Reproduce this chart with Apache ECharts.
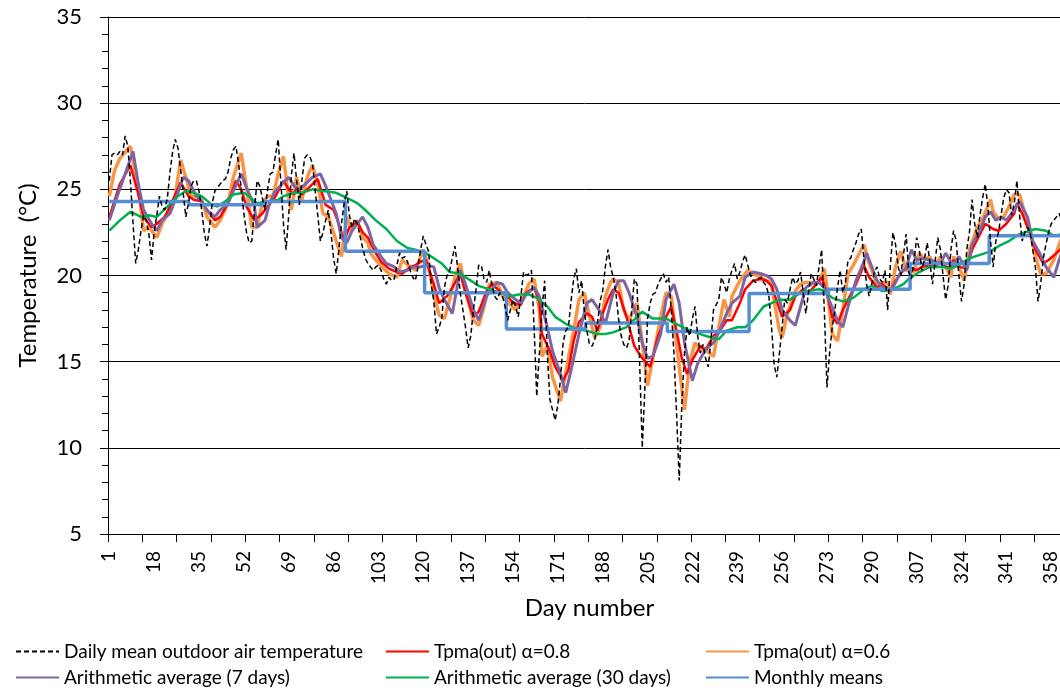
<!DOCTYPE html>
<html><head><meta charset="utf-8">
<script src="https://cdn.jsdelivr.net/npm/echarts@6/dist/echarts.min.js"></script>
<style>html,body{margin:0;padding:0;background:#fff}#c{width:1060px;height:690px}</style>
</head><body><div id="c"></div>
<script>
// ---- DATA ----
const dailyMean = [
 25.5,27.0,27.1,27.0,27.2,27.0,28.1,27.5,25.5,23.0, // 1-10
 20.7,21.5,22.6,23.5,23.2,22.4,20.9,22.5,23.5,24.6, // 11-20
 24.0,23.8,24.5,26.0,27.2,27.9,27.4,26.2,24.8,23.4, // 21-30
 24.2,25.2,25.5,25.5,24.9,23.8,22.5,21.7,22.8,24.2, // 31-40
 24.9,25.1,25.3,25.5,25.6,26.0,26.8,27.3,27.5,26.5, // 41-50
 25.0,23.6,22.5,21.9,22.0,23.8,25.5,25.2,24.5,23.8, // 51-60
 25.0,25.9,26.0,27.0,27.9,25.5,23.0,21.5,23.5,25.8, // 61-70
 27.1,25.5,24.1,25.5,26.8,27.0,26.9,26.5,25.0,23.5, // 71-80
 22.0,22.5,23.2,23.8,22.5,21.0,20.1,21.5,23.0,24.2, // 81-90
 24.9,23.5,22.8,23.3,23.0,22.3,21.6,21.0,20.7,20.5, // 91-100
 20.3,20.5,20.6,20.3,19.8,19.5,19.9,19.7,19.8,20.6, // 101-110
 21.3,21.0,21.1,20.8,20.3,19.9,19.7,20.5,21.5,22.3, // 111-120
 21.8,21.4,19.5,18.5,16.6,17.0,17.5,19.3,20.0,20.3, // 121-130
 21.0,21.7,20.5,19.0,18.0,17.0,15.8,16.5,18.0,19.2, // 131-140
 20.6,20.6,19.8,19.6,20.3,19.5,18.8,18.6,19.0,18.8, // 141-150
 18.2,17.4,18.0,18.6,18.2,17.6,18.8,20.2,20.0,20.1, // 151-160
 20.3,17.0,13.0,15.5,18.0,19.7,15.5,12.8,12.2,11.6, // 161-170
 12.5,14.0,16.1,16.8,17.0,18.5,19.8,20.4,19.0,19.7, // 171-180
 18.0,16.8,16.0,15.9,16.3,17.2,18.5,19.1,20.5,21.5, // 181-190
 20.5,19.9,19.0,17.5,16.5,16.0,15.8,16.2,18.0,19.8, // 191-200
 19.5,15.0,10.0,13.5,17.5,18.4,18.9,19.0,19.5,19.8, // 201-210
 20.1,19.6,19.9,18.0,15.5,12.0,8.1,12.5,15.5,17.0,  // 211-220
 16.5,17.5,18.2,16.5,15.5,16.0,15.2,14.7,16.2,18.0, // 221-230
 18.3,18.6,19.9,19.5,19.0,19.8,20.3,20.7,19.8,20.2, // 231-240
 20.8,21.2,20.6,20.0,19.7,19.6,19.8,19.9,19.6,19.4, // 241-250
 18.8,17.0,14.8,14.1,15.5,17.0,18.6,18.4,19.2,19.9, // 251-260
 19.5,19.7,20.2,19.0,17.8,19.0,20.1,19.8,19.4,20.5, // 261-270
 21.5,18.0,13.5,15.5,17.0,18.0,19.3,20.3,19.0,19.6, // 271-280
 20.9,21.0,21.5,21.9,22.4,22.7,21.0,19.5,18.8,19.5, // 281-290
 20.2,20.5,19.8,19.6,20.3,18.0,20.5,22.5,21.8,20.5, // 291-300
 20.0,21.2,22.4,20.2,19.8,20.8,22.2,21.5,20.3,21.0, // 301-310
 21.9,20.8,19.5,20.8,22.2,21.5,20.0,18.6,19.5,21.5, // 311-320
 22.6,22.0,20.0,18.5,19.5,21.5,22.5,24.4,23.0,22.2, // 321-330
 23.5,24.5,25.3,24.0,22.0,20.5,22.0,22.5,23.5,24.5, // 331-340
 25.0,24.8,23.5,24.2,25.5,23.5,22.0,22.5,22.8,22.5, // 341-350
 21.5,20.5,18.5,19.5,21.0,21.8,22.5,23.0,23.2,23.4, // 351-360
 23.6,23.2,23.0,22.8,22.6                           // 361-365
];
// [day, value] readings
const tpma08 = [[1,23.4],[5,25.3],[9,26.4],[12,24.7],[14,23.4],[17,22.8],[19,23.0],[22,23.4],[24,24.0],[28,25.4],[31,24.6],[33,24.4],[36,24.3],[38,23.8],[41,23.2],[43,23.4],[46,24.2],[49,25.5],[51,25.0],[53,24.0],[56,23.2],[59,23.6],[61,24.0],[64,24.6],[67,25.5],[69,25.0],[71,24.7],[72,25.1],[74,24.7],[76,25.0],[78,25.3],[80,25.6],[81,25.1],[83,24.1],[86,23.8],[88,23.0],[90,22.0],[92,22.8],[95,23.1],[97,22.5],[99,22.2],[102,21.3],[104,20.8],[107,20.4],[110,20.2],[112,20.1],[115,20.5],[117,20.6],[119,20.8],[121,20.9],[124,19.5],[126,18.4],[129,18.8],[131,19.3],[134,20.1],[136,19.0],[139,17.6],[141,17.9],[144,19.1],[146,19.5],[149,19.1],[152,18.8],[154,18.4],[157,18.3],[159,19.0],[162,19.3],[164,18.5],[165,16.6],[168,15.6],[170,14.7],[173,13.9],[175,14.5],[177,16.2],[179,17.3],[182,17.8],[184,17.6],[186,16.8],[188,17.8],[190,18.6],[192,19.2],[194,19.0],[197,17.6],[200,15.9],[203,15.2],[206,14.7],[209,16.5],[212,17.6],[214,18.2],[216,16.8],[218,15.2],[220,14.3],[222,15.1],[225,15.9],[227,15.7],[230,16.5],[232,16.7],[235,17.4],[237,17.4],[240,18.4],[242,19.2],[245,19.7],[248,19.8],[250,19.7],[252,19.4],[254,18.5],[256,17.6],[259,18.0],[261,18.8],[264,19.2],[266,19.0],[269,19.5],[271,19.9],[273,19.0],[275,17.6],[277,17.2],[279,18.0],[281,18.6],[284,19.5],[287,20.6],[289,19.9],[292,19.3],[294,19.5],[297,19.1],[299,19.7],[302,20.3],[304,20.5],[307,20.3],[309,20.5],[312,20.6],[314,20.5],[316,20.8],[318,20.5],[320,20.5],[321,20.9],[323,20.5],[326,20.4],[328,21.5],[331,22.4],[333,23.0],[336,22.7],[338,22.6],[341,23.0],[344,23.6],[345,24.2],[347,23.6],[350,22.4],[352,21.5],[355,20.7],[357,20.9],[360,21.3],[362,21.6],[365,22.0]];
const tpma06 = [[1,24.6],[3,26.1],[5,26.8],[9,27.5],[12,25.1],[14,22.6],[16,22.8],[19,22.2],[21,23.0],[23,23.6],[26,24.6],[28,26.7],[30,25.7],[32,24.6],[34,24.6],[36,24.4],[38,23.4],[41,22.8],[43,23.2],[46,24.2],[48,25.7],[51,27.1],[53,25.1],[55,22.8],[57,22.8],[59,24.2],[61,24.6],[63,24.6],[65,25.9],[67,26.9],[69,24.5],[70,23.8],[72,25.7],[74,24.4],[76,25.7],[78,26.4],[80,25.3],[82,23.6],[84,23.4],[87,22.0],[89,21.1],[91,23.4],[93,22.6],[95,23.2],[97,22.2],[99,21.9],[100,21.3],[102,20.9],[105,20.4],[107,20.1],[110,19.9],[112,20.9],[115,20.5],[117,20.3],[120,21.5],[122,20.5],[124,18.9],[126,17.7],[128,17.5],[130,18.6],[132,19.9],[134,20.7],[136,19.1],[139,17.4],[141,17.1],[143,18.2],[145,19.5],[148,19.6],[150,18.8],[153,18.3],[155,18.0],[158,18.8],[160,19.5],[162,19.8],[164,18.0],[165,15.3],[167,15.9],[169,14.1],[172,12.7],[174,14.4],[177,16.8],[179,18.6],[181,19.0],[183,17.6],[185,16.4],[187,17.0],[189,18.8],[191,19.6],[192,19.8],[194,19.6],[196,18.0],[198,17.4],[201,18.4],[203,16.1],[205,13.6],[207,15.2],[210,17.6],[212,19.0],[214,18.8],[216,16.0],[219,12.2],[221,15.0],[223,16.1],[225,15.7],[227,15.7],[230,15.3],[232,17.0],[234,18.6],[236,17.6],[237,18.8],[240,19.7],[243,20.3],[245,20.1],[248,19.9],[250,19.7],[252,19.6],[253,18.5],[255,16.8],[256,16.4],[258,17.8],[261,19.1],[263,19.5],[265,19.6],[268,19.6],[270,19.6],[272,20.4],[273,19.3],[275,16.6],[277,16.2],[279,18.0],[281,20.1],[283,20.6],[285,21.2],[287,21.8],[289,20.7],[292,19.5],[294,19.6],[296,19.6],[297,18.9],[299,20.5],[301,21.4],[303,20.3],[306,20.2],[308,21.3],[310,20.9],[312,21.1],[314,20.5],[316,21.1],[318,20.5],[320,19.9],[321,21.1],[323,20.5],[325,19.7],[327,21.5],[330,22.8],[332,23.3],[335,24.4],[336,23.7],[338,23.3],[340,23.4],[342,24.0],[344,24.7],[346,24.7],[348,23.6],[350,22.6],[352,21.1],[354,20.1],[356,20.1],[359,20.9],[361,21.8],[363,22.5],[365,22.8]];
const avg7 = [[1,23.2],[4,24.6],[7,25.9],[10,27.2],[12,25.3],[14,23.8],[17,23.0],[19,22.6],[21,23.2],[24,23.6],[27,24.8],[29,25.7],[31,25.5],[34,24.6],[36,24.3],[38,23.8],[41,23.4],[43,23.8],[46,24.2],[48,24.9],[51,25.9],[53,25.1],[56,24.0],[57,22.8],[60,23.2],[62,24.3],[64,24.9],[67,25.4],[69,25.7],[71,25.2],[73,25.0],[76,25.4],[78,25.7],[81,25.9],[83,25.2],[85,24.4],[87,23.6],[89,22.2],[91,21.9],[93,22.6],[95,23.0],[97,23.4],[99,22.8],[101,21.8],[104,21.1],[106,20.7],[109,20.5],[111,20.2],[114,20.3],[116,20.5],[119,20.5],[121,20.6],[124,20.5],[126,19.3],[128,18.6],[131,17.8],[134,20.3],[136,19.5],[139,18.0],[141,17.4],[144,18.8],[148,19.6],[150,19.5],[152,19.0],[155,18.6],[157,18.4],[159,18.9],[162,19.3],[164,18.8],[167,17.0],[169,15.6],[172,14.3],[174,13.2],[176,14.5],[179,16.6],[182,18.4],[184,18.6],[187,17.9],[189,17.2],[192,19.0],[194,19.7],[196,19.7],[198,19.0],[201,17.6],[203,16.1],[205,15.2],[207,15.3],[210,16.6],[212,18.6],[215,19.5],[217,18.4],[219,16.1],[222,13.9],[224,14.9],[227,15.7],[230,16.1],[232,16.7],[235,17.8],[237,18.4],[240,18.8],[242,19.9],[245,20.2],[248,20.1],[250,20.0],[252,19.8],[254,19.2],[256,18.0],[259,17.4],[261,17.1],[263,18.2],[265,19.3],[268,19.6],[270,19.6],[272,19.3],[274,18.5],[277,17.4],[279,17.0],[281,18.2],[284,19.7],[287,20.8],[288,21.3],[290,20.5],[292,19.7],[294,19.3],[296,19.1],[298,19.3],[301,20.2],[303,20.4],[305,21.5],[307,20.9],[309,21.0],[312,20.9],[314,20.8],[316,20.7],[318,21.3],[321,20.5],[323,21.1],[326,20.3],[328,21.8],[331,22.6],[333,23.4],[335,23.7],[337,23.2],[339,23.4],[341,23.2],[344,23.8],[346,24.3],[349,23.4],[351,22.0],[354,21.2],[356,20.5],[359,19.9],[361,20.9],[363,21.8],[365,22.5]];
const avg30 = [[1,22.6],[5,23.2],[9,23.7],[13,23.4],[16,23.5],[19,23.4],[23,24.0],[27,24.6],[30,24.9],[33,24.8],[36,24.6],[40,24.1],[42,24.0],[45,24.3],[48,24.7],[52,24.8],[54,24.6],[57,24.2],[61,24.3],[65,24.4],[67,24.6],[71,24.8],[74,24.8],[78,25.0],[82,24.9],[87,24.8],[91,24.5],[95,24.2],[98,23.8],[102,23.2],[106,22.7],[110,22.0],[114,21.6],[117,21.5],[121,21.3],[125,20.9],[127,20.7],[130,20.2],[134,20.1],[138,19.7],[141,19.4],[145,19.2],[149,19.0],[153,18.8],[156,18.9],[160,18.9],[163,18.7],[167,18.2],[170,17.6],[174,17.2],[178,16.9],[182,16.8],[186,16.6],[189,16.6],[192,16.7],[197,17.0],[201,17.6],[203,17.9],[207,17.5],[212,17.5],[217,17.1],[221,16.8],[225,16.6],[229,16.4],[232,16.3],[235,16.8],[239,17.0],[242,17.0],[245,17.4],[249,18.2],[252,18.4],[255,18.6],[259,18.6],[263,19.0],[266,19.1],[270,19.2],[272,19.1],[275,18.7],[279,18.5],[283,18.7],[287,19.2],[290,19.4],[294,19.1],[298,19.2],[302,19.5],[304,19.8],[308,20.2],[312,20.5],[316,20.5],[320,20.4],[323,20.6],[327,21.0],[331,21.2],[335,21.4],[338,21.7],[342,22.0],[346,22.4],[350,22.6],[352,22.7],[356,22.6],[359,22.3],[362,22.4],[365,22.5]];
const monthMeans = [24.3, 24.1, 24.3, 21.4, 19.0, 16.9, 17.25, 16.75, 18.95, 19.2, 20.7, 22.3];
const monthLengths = [31, 28, 31, 30, 31, 30, 31, 31, 30, 31, 30, 31];
const seriesNames = ['Daily mean outdoor air temperature','Tpma(out) \u03b1=0.8','Tpma(out) \u03b1=0.6','Arithmetic average (7 days)','Arithmetic average (30 days)','Monthly means'];

// ---- BUILD ----
const dayLabels = dailyMean.map((v, i) => String(i + 1));
const toIdx = arr => arr.map(p => [p[0] - 1, p[1]]);
const monthly = [];
monthMeans.forEach((m, i) => { for (let k = 0; k < monthLengths[i]; k++) monthly.push(m); });

const FONT = 'Lato, Carlito, "Liberation Sans", sans-serif';
const chart = echarts.init(document.getElementById('c'), null, {renderer: 'canvas'});
function leg(name, left, top) {
  return {data: [name], left: left, top: top, padding: 0, itemWidth: 43, itemHeight: 12,
    selectedMode: false, itemStyle: {opacity: 0},
    textStyle: {fontFamily: FONT, fontSize: 19, color: '#000'}};
}
const lineSeries = (name, data, color, width, extra) => Object.assign({
  name: name, type: 'line', data: data, showSymbol: false, symbol: 'none',
  connectNulls: true, lineStyle: {color: color, width: width}, itemStyle: {color: color}, silent: true
}, extra || {});

chart.setOption({
  animation: false,
  backgroundColor: '#fff',
  grid: {left: 108, right: -11, top: 17, bottom: 156, containLabel: false, outerBoundsMode: 'none'},
  xAxis: {
    type: 'category', data: dayLabels, boundaryGap: true,
    name: 'Day number', nameLocation: 'middle', nameGap: 62,
    nameTextStyle: {fontFamily: FONT, fontSize: 24, color: '#000'},
    axisLine: {lineStyle: {color: '#000', width: 1}},
    axisTick: {show: true, interval: 12, length: 8, alignWithLabel: false, lineStyle: {color: '#000'}},
    axisLabel: {interval: 16, rotate: 90, margin: 8, padding: [0, 9, 0, 0], fontFamily: FONT, fontSize: 19, color: '#000'},
    splitLine: {show: false}
  },
  yAxis: {
    type: 'value', min: 5, max: 35, interval: 5,
    name: 'Temperature  (\u00b0C)', nameLocation: 'middle', nameGap: 68, nameRotate: 90,
    nameTextStyle: {fontFamily: FONT, fontSize: 24, color: '#000'},
    axisLine: {show: true, lineStyle: {color: '#000', width: 1}},
    axisTick: {show: true, length: 8, lineStyle: {color: '#000'}},
    minorTick: {show: true, splitNumber: 5, length: 6, lineStyle: {color: '#000'}},
    axisLabel: {margin: 8, padding: [0, 18, 0, 0], fontFamily: FONT, fontSize: 22, color: '#000'},
    splitLine: {show: true, lineStyle: {color: '#000', width: 1}}
  },
  legend: [
    leg(seriesNames[0], 15, 642), leg(seriesNames[1], 385, 642), leg(seriesNames[2], 705, 642),
    leg(seriesNames[3], 15, 668), leg(seriesNames[4], 385, 668), leg(seriesNames[5], 705, 668)
  ],
  series: [
    lineSeries(seriesNames[2], toIdx(tpma06), '#F79646', 3.5),
    lineSeries(seriesNames[1], toIdx(tpma08), '#FF0000', 2.5),
    lineSeries(seriesNames[3], toIdx(avg7), '#8064A2', 3),
    lineSeries(seriesNames[4], toIdx(avg30), '#00B050', 2.5),
    lineSeries(seriesNames[5], monthly, '#558ED5', 3.5, {step: 'middle'}),
    lineSeries(seriesNames[0], dailyMean, '#000000', 1.5, {lineStyle: {color: '#000', width: 1.5, type: [5, 3]}})
  ]
});
</script></body></html>
